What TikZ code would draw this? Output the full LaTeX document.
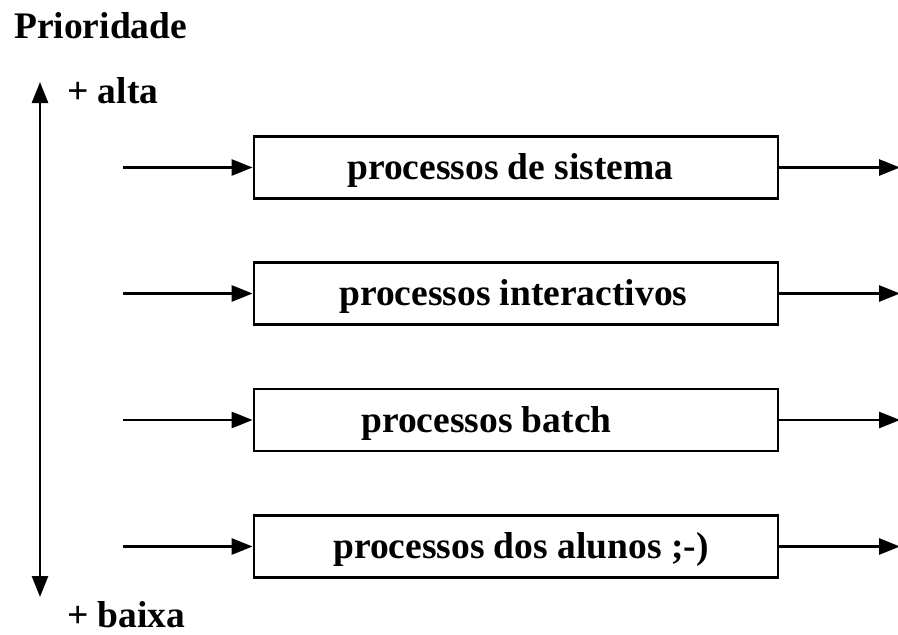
\documentclass[tikz,border=0pt]{standalone}
\usepackage{fontspec}
\setmainfont{Liberation Serif}
\usetikzlibrary{arrows.meta}
\begin{document}
\begin{tikzpicture}[x=1pt,y=-1pt,
  queue/.style={draw,line width=2.8pt,minimum width=524pt,minimum height=62pt,inner sep=0pt},
  lbl/.style={font=\fontsize{37.5}{42}\selectfont\bfseries,inner sep=0pt,anchor=base west},
  flow/.style={line width=2.8pt,-{Triangle[length=21pt,width=16pt]}},
  axis/.style={line width=2.8pt,{Triangle[length=21pt,width=16pt]}-{Triangle[length=21pt,width=16pt]}}]
  \useasboundingbox (0,0) rectangle (898,635);

  % priority axis
  \node[lbl] (title) at (14,38) {Prioridade};
  \node[lbl] (high) at (67,103) {+ alta};
  \node[lbl] (low) at (67,627) {+ baixa};
  \coordinate (atop) at (40,82);
  \coordinate (abot) at (40,597);
  \draw[axis] (atop) -- (abot);

  % queues, from highest to lowest priority
  \foreach \i/\y/\tx/\txt in {1/167.5/347/processos de sistema,
                              2/293.5/339/processos interactivos,
                              3/420/361/processos batch,
                              4/546.5/333/{processos dos alunos ;-)}} {
    \node[queue] (q\i) at (516,\y) {};
    \node[lbl] (t\i) at (\tx,\y+12) {\txt};
    \coordinate (in\i) at (123,\y);
    \coordinate (out\i) at (900,\y);
    \draw[flow] (in\i) -- (q\i.west);
    \draw[flow] (q\i.east) -- (out\i);
  }
\end{tikzpicture}
\end{document}
